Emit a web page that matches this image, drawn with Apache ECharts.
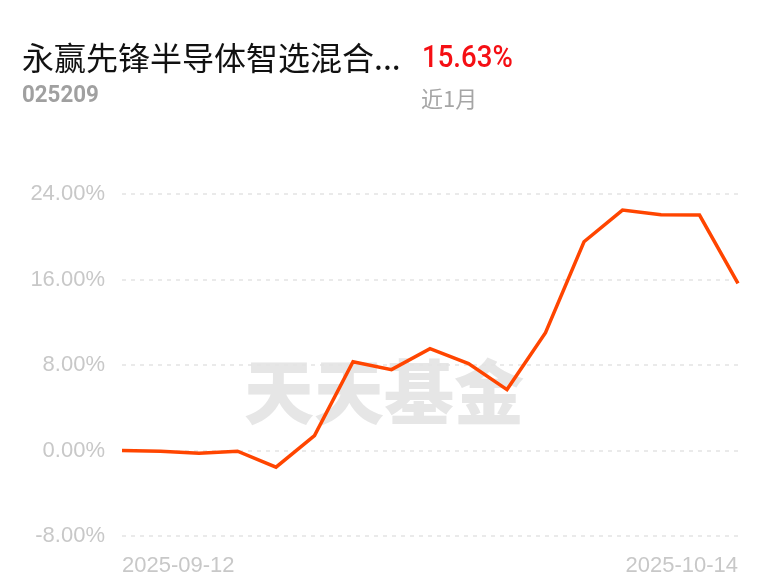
<!DOCTYPE html>
<html>
<head>
<meta charset="utf-8">
<title>永赢先锋半导体智选混合</title>
<script src="https://cdn.jsdelivr.net/npm/echarts@6/dist/echarts.min.js"></script>
<style>
  html, body { margin: 0; padding: 0; background: #fff; }
  #chart { width: 768px; height: 587px; }
</style>
</head>
<body>
<div id="chart"></div>
<script>
// 日期（近1月交易日）
var dates = ['2025-09-12', '2025-09-15', '2025-09-16', '2025-09-17', '2025-09-18', '2025-09-19',
  '2025-09-22', '2025-09-23', '2025-09-24', '2025-09-25', '2025-09-26', '2025-09-29',
  '2025-09-30', '2025-10-09', '2025-10-10', '2025-10-13', '2025-10-14']
// 累计收益率 %
var returns = [0.00, -0.08, -0.25, -0.07, -1.56, 1.40, 8.30, 7.57, 9.53, 8.13, 5.70,
  11.03, 19.53, 22.50, 22.06, 22.03, 15.63]
var yTicks = [-8, 0, 8, 16, 24]

var fundName = '永赢先锋半导体智选混合...'
var fundCode = '025209'
var periodReturn = '15.63%'
var periodLabel = '近1月'

var chart = echarts.init(document.getElementById('chart'))
var cjk = '"Noto Sans CJK SC", sans-serif'
var num = '"Liberation Sans", Arial, sans-serif'

var option = {
  animation: false,
  grid: { left: 122, right: 30, top: 194, bottom: 51 },
  graphic: [
    { type: 'text', x: 22, y: 58, style: { text: fundName, font: '32px ' + cjk, fill: '#111', verticalAlign: 'middle' } },
    { type: 'text', x: 422, y: 59, scaleX: 0.89, style: { text: periodReturn, font: '500 31px Roboto, sans-serif', fill: '#f50f14', verticalAlign: 'middle' } },
    { type: 'text', x: 22, y: 96, scaleX: 0.93, style: { text: fundCode, font: 'bold 24px Roboto, sans-serif', fill: '#a0a0a0', verticalAlign: 'middle' } },
    { type: 'text', x: 421, y: 99, style: { text: periodLabel, font: '22px ' + cjk, fill: '#a5a5a5', verticalAlign: 'middle' } },
    // 水印
    { type: 'text', left: 244, top: 357, z: 0, style: { text: '天天基金', font: '900 70px ' + cjk, fill: '#e6e6e6' } }
  ],
  xAxis: {
    type: 'category',
    data: dates,
    boundaryGap: false,
    axisLine: { show: false },
    axisTick: { show: false },
    axisLabel: {
      color: '#c8c8c8',
      fontSize: 22,
      fontFamily: num,
      margin: 19,
      interval: function (index) { return index === 0 || index === dates.length - 1 },
      alignMinLabel: 'left',
      alignMaxLabel: 'right'
    }
  },
  yAxis: {
    type: 'value',
    min: yTicks[0],
    max: yTicks[yTicks.length - 1],
    interval: 8,
    axisLine: { show: false },
    axisTick: { show: false },
    axisLabel: {
      color: '#c8c8c8',
      fontSize: 22,
      fontFamily: num,
      margin: 17,
      formatter: function (v) { return v.toFixed(2) + '%' }
    },
    splitLine: { lineStyle: { color: '#e3e3e3', type: [4, 5], width: 1.5 } }
  },
  series: [{
    type: 'line',
    data: returns,
    symbol: 'none',
    z: 5,
    lineStyle: { color: '#ff4500', width: 3.5, join: 'miter' }
  }]
}
chart.setOption(option)
</script>
</body>
</html>
